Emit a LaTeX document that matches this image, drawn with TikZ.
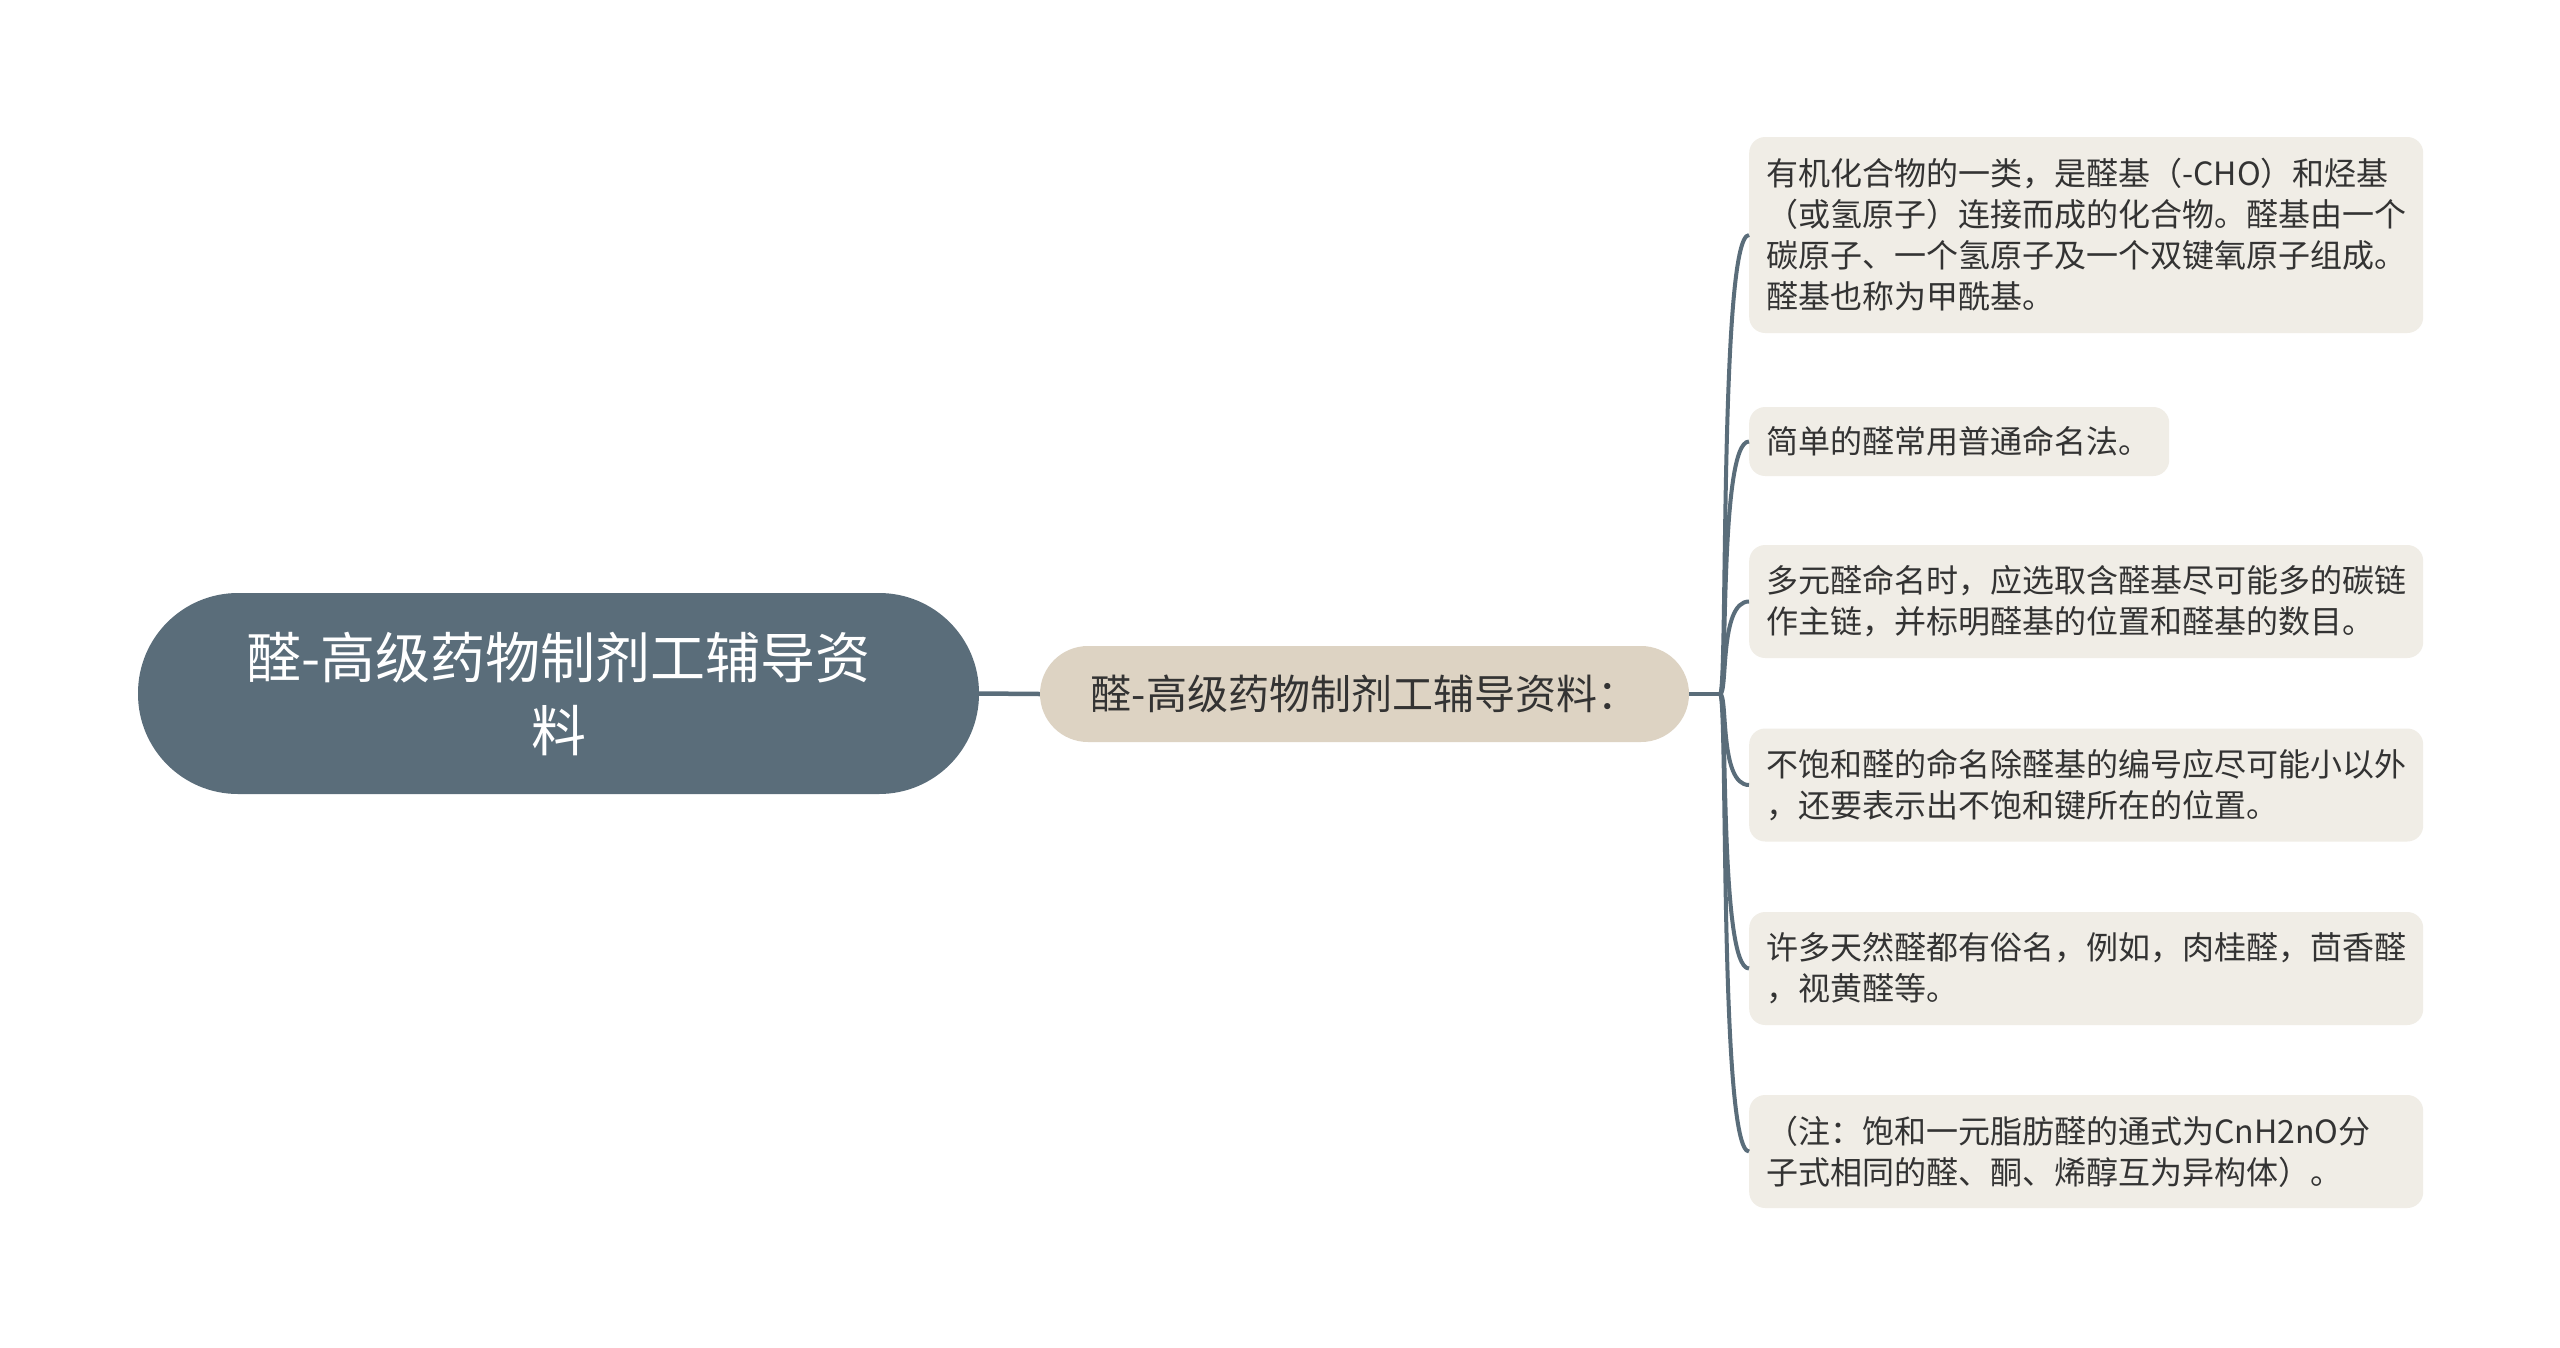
\documentclass[tikz,border=0pt]{standalone}
\usepackage{fontspec}
\setmainfont{Noto Sans CJK SC}
\definecolor{rootc}{HTML}{5A6D7A}
\definecolor{midc}{HTML}{DDD3C3}
\definecolor{leafc}{HTML}{F0EDE6}
\definecolor{linec}{HTML}{5A6D7A}
\definecolor{textc}{HTML}{333333}
\begin{document}
\begin{tikzpicture}[x=1pt,y=1pt,
  rootbox/.style={fill=rootc, rounded corners=100pt, minimum width=841pt, minimum height=201pt,
    text=white, align=center, font=\fontsize{55}{73}\selectfont, inner sep=0pt},
  midbox/.style={fill=midc, rounded corners=48pt, minimum width=649pt, minimum height=96pt,
    text=textc, font=\fontsize{41}{49}\selectfont, inner sep=0pt},
  leafbox/.style={fill=leafc, rounded corners=16pt, anchor=west, align=left, text=textc,
    font=\fontsize{32}{41}\selectfont, inner xsep=17pt, inner ysep=0pt, text width=640pt, minimum height=113pt},
  conn/.style={draw=linec, line width=4pt},
]
\useasboundingbox (0,0) rectangle (2560,-1347);
\fill[white] (0,0) rectangle (2560,-1347);

\node[rootbox] (root) at (558.5,-693.5) {醛-高级药物制剂工辅导资\\料};
\node[midbox] (mid) at (1364.5,-694) {醛-高级药物制剂工辅导资料：};

\node[leafbox, minimum height=196pt] (l1) at (1749,-235) {有机化合物的一类，是醛基（-CHO）和烃基\\（或氢原子）连接而成的化合物。醛基由一个\\碳原子、一个氢原子及一个双键氧原子组成。\\醛基也称为甲酰基。};
\node[leafbox, text width=386pt, minimum height=69pt] (l2) at (1749,-441.5) {简单的醛常用普通命名法。};
\node[leafbox] (l3) at (1749,-601.5) {多元醛命名时，应选取含醛基尽可能多的碳链\\作主链，并标明醛基的位置和醛基的数目。};
\node[leafbox] (l4) at (1749,-785) {不饱和醛的命名除醛基的编号应尽可能小以外\\，还要表示出不饱和键所在的位置。};
\node[leafbox] (l5) at (1749,-968.5) {许多天然醛都有俗名，例如，肉桂醛，茴香醛\\，视黄醛等。};
\node[leafbox] (l6) at (1749,-1151.5) {（注：饱和一元脂肪醛的通式为CnH2nO分\\子式相同的醛、酮、烯醇互为异构体）。};

\coordinate (hub) at (1720,-694);
\draw[conn, line width=4.5pt] (root.east) -- (mid.west);
\draw[conn] (mid.east) -- (hub);
\foreach \n in {l1,l2,l3,l4,l5,l6}
  \draw[conn] (hub) .. controls +(8,0) and +(-30,0) .. (\n.west);
\end{tikzpicture}
\end{document}
